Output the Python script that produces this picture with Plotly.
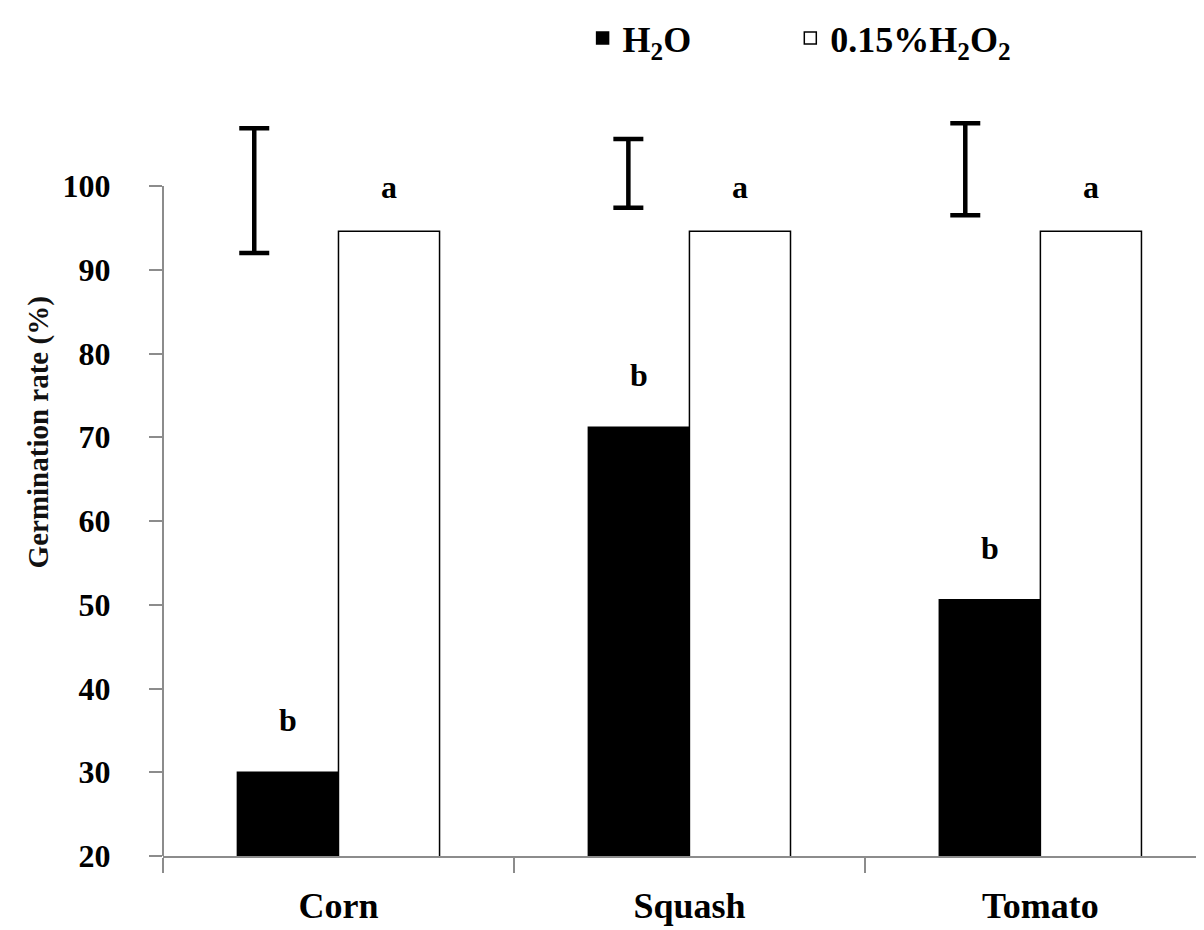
import plotly.graph_objects as go

categories = ["Corn", "Squash", "Tomato"]
h2o = [30.0, 71.2, 50.6]
h2o2 = [94.6, 94.6, 94.6]
h2o_letters = ["b", "b", "b"]
h2o2_letters = ["a", "a", "a"]
# standalone error (LSD) bars: centre, half-length, offset from category centre
err_center = [99.45, 101.5, 102.0]
err_half = [7.45, 4.1, 5.5]
err_offset = [-0.24, -0.174, -0.214]
y_ticks = [20, 30, 40, 50, 60, 70, 80, 90, 100]

xpos = list(range(len(categories)))
FONT = "Liberation Serif"
AXC = "#8c8c8c"

fig = go.Figure()
fig.add_trace(go.Bar(x=xpos, y=h2o, name="<b>H<sub>2</sub>O</b>", legend="legend",
                     marker=dict(color="black", line=dict(color="black", width=1.5))))
fig.add_trace(go.Bar(x=xpos, y=h2o2, name="<b>0.15%H<sub>2</sub>O<sub>2</sub></b>",
                     legend="legend2",
                     marker=dict(color="white", line=dict(color="black", width=1.5))))
fig.add_trace(go.Scatter(
    x=[x + o for x, o in zip(xpos, err_offset)], y=err_center, mode="markers",
    marker=dict(size=0.1, color="black"), showlegend=False, cliponaxis=False,
    error_y=dict(type="data", array=err_half, visible=True, color="black",
                 thickness=4.5, width=15)))

bw = 0.288
for i in xpos:
    fig.add_annotation(x=i - bw / 2, y=h2o[i], text="<b>" + h2o_letters[i] + "</b>",
                       showarrow=False, yanchor="bottom", yshift=32,
                       font=dict(family=FONT, size=32, color="black"))
    fig.add_annotation(x=i + bw / 2, y=h2o2[i], text="<b>" + h2o2_letters[i] + "</b>",
                       showarrow=False, yanchor="bottom", yshift=24,
                       font=dict(family=FONT, size=32, color="black"))

# y-axis title (placed off-centre as in the original)
fig.add_annotation(xref="paper", yref="paper", x=-0.119, y=0.575,
                   text="<b>Germination rate (%)</b>", textangle=-90,
                   showarrow=False, xanchor="center", yanchor="middle",
                   font=dict(family=FONT, size=29, color="#111111"))

# y-axis line only from 20 to 100, as in the original
fig.add_shape(type="line", xref="paper", yref="y", x0=0, x1=0,
              y0=y_ticks[0], y1=y_ticks[-1], line=dict(color=AXC, width=2))

legend_common = dict(orientation="h", xanchor="left", y=1.1506, yanchor="top",
                     font=dict(family=FONT, size=36, color="black"),
                     itemwidth=30, bgcolor="rgba(0,0,0,0)")

fig.update_layout(
    width=1204, height=930,
    margin=dict(l=155, r=0, t=111, b=82),
    plot_bgcolor="white", paper_bgcolor="white",
    barmode="group", bargap=0.424, bargroupgap=0,
    font=dict(family=FONT, color="black"),
    legend=dict(x=0.400, **legend_common),
    legend2=dict(x=0.598, **legend_common),
    xaxis=dict(range=[-0.5, 2.489], tickmode="array", tickvals=xpos,
               ticktext=["<b>" + c + "</b>" for c in categories],
               ticks="", showline=True, linecolor=AXC, linewidth=2,
               showgrid=False, zeroline=False, automargin=False,
               tickfont=dict(family=FONT, size=36, color="black"),
               ticklabelstandoff=17,
               minor=dict(tickmode="array", tickvals=[-0.5, 0.5, 1.5],
                          ticks="outside", ticklen=15, tickcolor=AXC,
                          tickwidth=2, showgrid=False)),
    yaxis=dict(range=[20, 108], tickmode="array",
               tickvals=y_ticks,
               ticktext=["<b>%d</b>" % v for v in y_ticks],
               ticks="outside", ticklen=13, tickcolor=AXC, tickwidth=2,
               showline=False, automargin=False,
               showgrid=False, zeroline=False,
               tickfont=dict(family=FONT, size=32, color="black"),
               ticklabelstandoff=32),
)

fig.write_html("out.html")
